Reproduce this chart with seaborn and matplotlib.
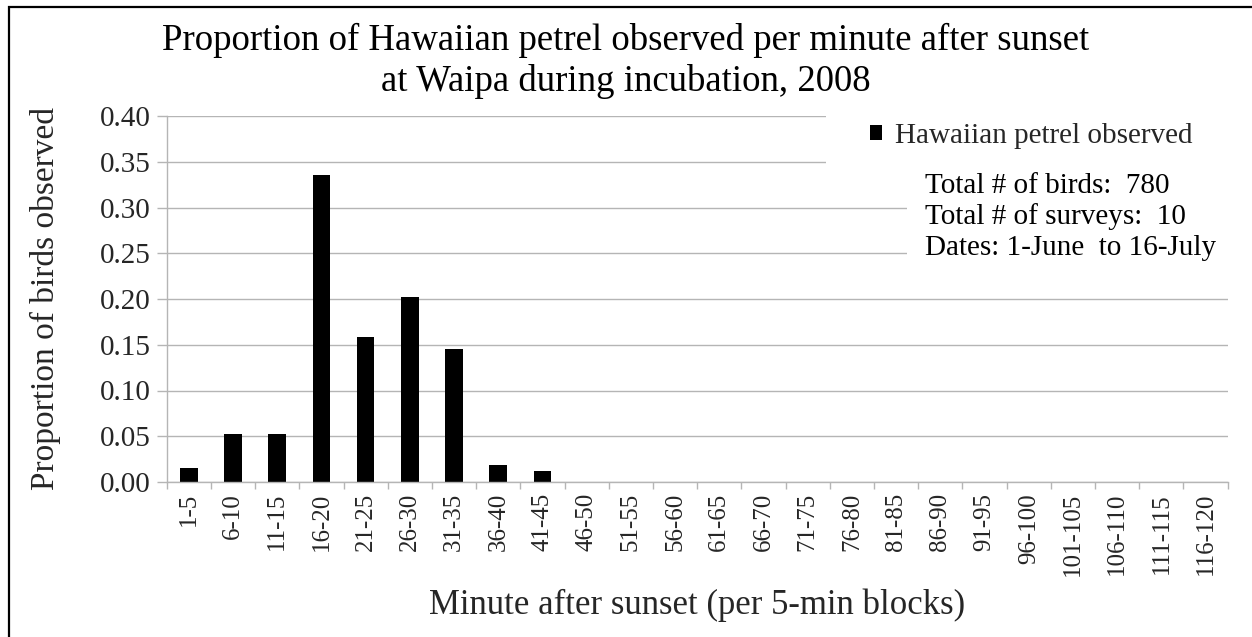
import matplotlib
matplotlib.use("Agg")
import matplotlib.pyplot as plt
from matplotlib.patches import Patch, Rectangle
import numpy as np
import pandas as pd
import seaborn as sns

# Five-minute blocks after sunset
blocks = ["1-5", "6-10", "11-15", "16-20", "21-25", "26-30", "31-35", "36-40",
          "41-45", "46-50", "51-55", "56-60", "61-65", "66-70", "71-75", "76-80",
          "81-85", "86-90", "91-95", "96-100", "101-105", "106-110", "111-115",
          "116-120"]
# Proportion of birds observed in each block
proportion = [0.015, 0.053, 0.053, 0.335, 0.158, 0.202, 0.145, 0.019,
              0.012, 0, 0, 0, 0, 0, 0, 0,
              0, 0, 0, 0, 0, 0, 0, 0]
y_ticks = [0.00, 0.05, 0.10, 0.15, 0.20, 0.25, 0.30, 0.35, 0.40]
series_name = "Hawaiian petrel observed"
notes = ["Total # of birds:  780", "Total # of surveys:  10", "Dates: 1-June  to 16-July"]
title = "Proportion of Hawaiian petrel observed per minute after sunset\nat Waipa during incubation, 2008"

df = pd.DataFrame({"block": blocks, "proportion": proportion})

sns.set_theme(style="white")
plt.rcParams["font.family"] = ["Liberation Serif", "DejaVu Serif"]

W, H = 1252, 637
fig = plt.figure(figsize=(W / 100, H / 100), dpi=100)
fig.patch.set_facecolor("white")

left_px, right_px, top_px, bottom_px = 166.7, 1227.7, 116, 482
ax = fig.add_axes([left_px / W, 1 - bottom_px / H,
                   (right_px - left_px) / W, (bottom_px - top_px) / H])

sns.barplot(data=df, x="block", y="proportion", color="black",
            saturation=1, width=0.4, ax=ax, order=blocks)
for p in ax.patches:
    p.set_linewidth(0)

grid_col = "#b5b5b5"
ax.set_ylim(0, 0.40)
ax.set_xlim(-0.5, len(blocks) - 0.5)
ax.set_yticks(y_ticks)
ax.set_yticklabels([f"{v:.2f}" for v in y_ticks])
ax.yaxis.grid(True, color=grid_col, lw=1.0)
ax.xaxis.grid(False)
ax.set_axisbelow(True)

for s in ["top", "right"]:
    ax.spines[s].set_visible(False)
for s in ["left", "bottom"]:
    ax.spines[s].set_color(grid_col)
    ax.spines[s].set_linewidth(1.0)

ax.tick_params(axis="y", direction="out", length=7.5, width=1.0, color=grid_col,
               pad=4, labelsize=21, left=True)
# Category labels at bar centres, boundary ticks between categories
ax.set_xticks(np.arange(len(blocks)))
ax.set_xticklabels(blocks, rotation=90, fontsize=18)
ax.tick_params(axis="x", which="major", length=0, pad=8)
ax.set_xticks(np.arange(len(blocks) + 1) - 0.5, minor=True)
ax.tick_params(axis="x", which="minor", direction="out", length=5, width=1.0,
               color=grid_col, bottom=True)

ax.set_xlabel("Minute after sunset (per 5-min blocks)", fontsize=25)
ax.xaxis.set_label_coords(0.5, -0.29)
ax.set_ylabel("Proportion of birds observed", fontsize=24)
ax.yaxis.set_label_coords(-0.1, 0.5)

def ax_x(px):
    return (px - left_px) / (right_px - left_px)

def ax_y(py):
    return (bottom_px - py) / (bottom_px - top_px)

# White panels behind the legend and the survey notes
for x0, y0, y1 in [(826, 105, 175), (907, 195, 265)]:
    ax.add_patch(Rectangle((ax_x(x0), ax_y(y1)), 1.02 - ax_x(x0),
                           ax_y(y0) - ax_y(y1), transform=ax.transAxes,
                           facecolor="white", edgecolor="none", zorder=0.8,
                           clip_on=False))

leg = ax.legend(handles=[Patch(facecolor="black", edgecolor="none", label=series_name)],
                loc="center left", bbox_to_anchor=(ax_x(870), ax_y(136)),
                frameon=False, fontsize=21, handlelength=0.42, handleheight=0.42,
                handletextpad=0.45, borderpad=0, borderaxespad=0)

for line, py in zip(notes, [186, 217, 248]):
    ax.text(ax_x(925), ax_y(py), line, transform=ax.transAxes, fontsize=21,
            ha="left", va="center", color="black", zorder=3)

fig.text(0.5, 1 - 61 / H, title, ha="center", va="center", fontsize=26.5,
         linespacing=1.22, color="black")

# Outer frame
fig.patches.append(Rectangle((9 / W, -0.2), 1.5, 1.2 - 7 / H,
                             transform=fig.transFigure, fill=False,
                             edgecolor="black", linewidth=1.6, zorder=10))

fig.savefig("out.png", dpi=100, facecolor="white")
